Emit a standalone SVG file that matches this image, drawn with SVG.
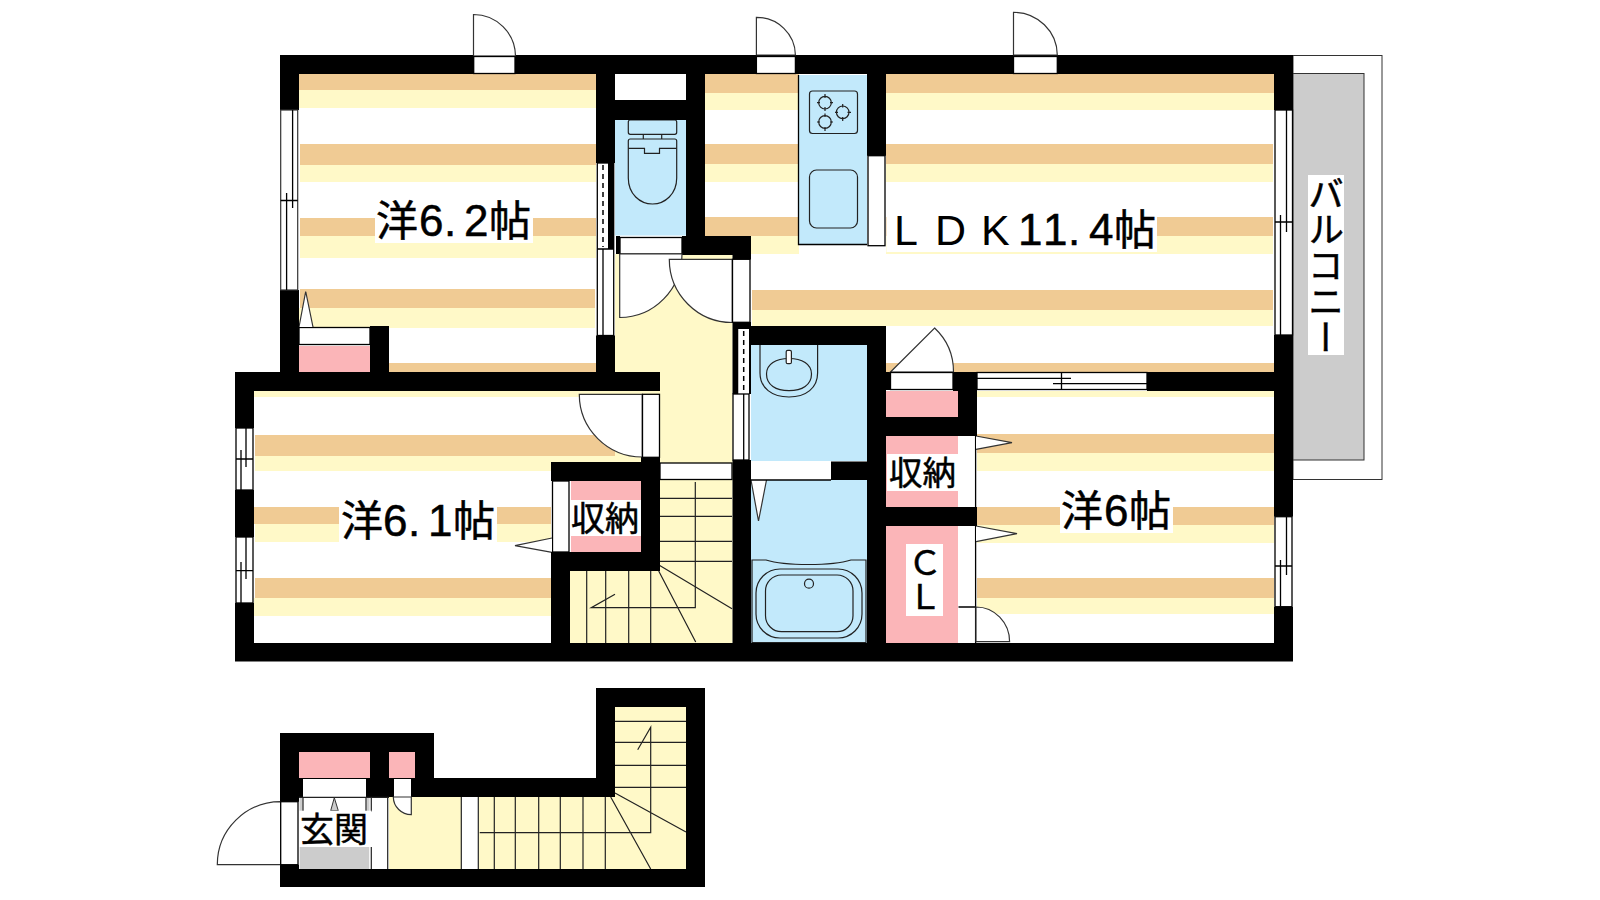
<svg xmlns="http://www.w3.org/2000/svg" width="1600" height="900" viewBox="0 0 1600 900">
<defs><style>
.w{fill:#000}.o{fill:#f0cb94}.c{fill:#fff9c8}.b{fill:#c2e9fb}.p{fill:#fbb5b8}.g{fill:#ccc}.n{fill:#fff}
.l{stroke:#000;stroke-width:1.3;fill:none}.f{stroke:#000;stroke-width:1.3;fill:#fff}
.a{stroke:#333;stroke-width:1.2;fill:none}.d{stroke:#333;stroke-width:1.2;fill:#fff}
.s{stroke:#222;stroke-width:1.2;fill:none}
.t{font-family:"Liberation Sans","Noto Sans CJK JP",sans-serif;fill:#000;stroke:#000;stroke-width:.5}
.j{font-family:"Noto Sans CJK JP",sans-serif;fill:#000;stroke:#000;stroke-width:.5}
.h{font-size:44px}.m{font-size:43px;stroke:none}
</style></defs>
<rect width="1600" height="900" fill="#fff"/>
<g id="balcony">
<rect x="1293" y="55.5" width="89" height="424" fill="#fff" stroke="#333" stroke-width="1"/>
<rect x="1293" y="73.5" width="71" height="386.5" class="g" stroke="#333" stroke-width="1"/>
<rect x="1308" y="175" width="36" height="180" class="n"/>
</g>
<g id="room-west">
<rect class="o" x="299" y="74" width="297" height="16"/><rect class="c" x="299" y="90" width="297" height="18"/>
<rect class="o" x="300" y="144" width="296" height="21"/><rect class="c" x="300" y="165" width="296" height="17"/>
<rect class="o" x="300" y="218" width="296" height="18"/><rect class="c" x="300" y="236" width="296" height="22"/>
<rect class="o" x="300" y="289" width="295" height="19"/><rect class="c" x="299" y="308" width="296" height="20"/>
<rect class="o" x="389" y="363" width="207" height="9"/>
<rect class="p" x="299" y="346" width="71" height="26"/>
<rect class="f" x="299" y="327.5" width="71" height="17"/>
<path class="d" d="M299 327L305.7 291.5L313 327"/>
</g>
<g id="room-ldk">
<g class="o"><rect x="705" y="74" width="94" height="19"/><rect x="705" y="144" width="94" height="20"/><rect x="705" y="217" width="94" height="19"/>
<rect x="886" y="74" width="388" height="19"/><rect x="886" y="144" width="387" height="20"/><rect x="886" y="217" width="387" height="19"/>
<rect x="752" y="290" width="521" height="20"/><rect x="886" y="363" width="388" height="9"/></g>
<g class="c"><rect x="705" y="93" width="94" height="17"/><rect x="705" y="164" width="94" height="18"/><rect x="751" y="236" width="48" height="18"/>
<rect x="886" y="93" width="388" height="17"/><rect x="886" y="164" width="387" height="18"/><rect x="886" y="236" width="387" height="18"/>
<rect x="752" y="310" width="521" height="16"/></g>
<path class="b" d="M798.5 75H867V244.5H798.5Z"/><path class="l" d="M798.5 75V244.5H867"/>
<rect class="f" x="868" y="155.7" width="17" height="90"/>
<rect class="s" x="809.5" y="91" width="48" height="42.5" rx="3"/>
<g class="s"><circle cx="825" cy="102.7" r="6.3"/><circle cx="842.7" cy="112.3" r="6.3"/><circle cx="825" cy="122" r="6.3"/>
<path d="M825 94V98M825 107V111M817 102.7H820M830 102.7H833M842.7 104V107.5M842.7 117V121M835 112.3H838M847.5 112.3H851M825 113.5V117M825 127V131M817 122H820M830 122H833"/></g>
<rect class="s" x="809.5" y="170" width="48" height="58" rx="7"/>
</g>
<g id="room-south-west">
<rect class="c" x="254" y="391" width="387" height="6"/>
<rect class="o" x="255" y="435" width="386" height="21"/><rect class="c" x="255" y="456" width="386" height="15"/>
<rect class="o" x="254" y="507" width="297" height="17"/><rect class="c" x="255" y="524" width="296" height="18"/>
<rect class="o" x="255" y="578" width="296" height="20"/><rect class="c" x="254" y="598" width="297" height="18"/>
<rect class="p" x="571" y="481" width="70" height="71"/>
<rect class="n" x="571" y="500" width="70" height="36"/>
<rect class="f" x="552.5" y="481" width="16.5" height="71"/>
<path class="d" d="M552 538L515 545.7L552 552.3"/>
</g>
<g id="room-south-east">
<rect class="c" x="977" y="391" width="297" height="6"/>
<rect class="o" x="977" y="434" width="297" height="19"/><rect class="c" x="977" y="453" width="297" height="18"/>
<rect class="o" x="977" y="507" width="297" height="18"/><rect class="c" x="977" y="525" width="297" height="18"/>
<rect class="o" x="977" y="578" width="297" height="20"/><rect class="c" x="977" y="598" width="297" height="16"/>
<rect class="p" x="886" y="391" width="72" height="26"/>
<rect class="p" x="886" y="436" width="72" height="71"/>
<rect class="p" x="886" y="526" width="72" height="117"/>
<rect class="n" x="887" y="454" width="71" height="37"/>
<rect class="n" x="906" y="544" width="37" height="72"/>
<rect class="n" x="958.5" y="436" width="17" height="71"/><rect class="n" x="958.5" y="526" width="17" height="117"/>
<path class="l" d="M975.6 436V507M975.6 526V643M958.5 607H976"/>
<path class="d" d="M976 436L1012 442.7L976 449.3"/><path class="d" d="M976 526L1017 533.7L976 541.7"/>
<path class="d" d="M976 607A33.6 34.7 0 0 1 1009.6 641.7H976Z"/>
</g>
<g id="hall-stairs">
<path class="c" d="M615 254H732.5V643H570V571H660V463H615Z"/>
<rect class="c" x="615" y="372" width="45" height="91"/>
<g class="s"><path d="M660 498.3H732M660 516.3H732M660 541.3H732M660 561.3H732M695.3 482V607.7H591.3L615 594.3"/>
<path d="M586.7 571V643M605.7 571V643M628.7 571V643M650.7 571V643M659.3 565.3L732 608.7M658.7 571L695.7 642"/></g>
<rect class="f" x="660" y="463" width="72" height="16.5"/>
</g>
<g id="washroom-bath">
<rect class="b" x="751" y="345" width="116" height="116"/>
<rect class="b" x="751" y="480" width="116" height="163"/>
<path class="s" d="M760 345V373C760 388 772 397 789 397C806 397 817.6 388 817.6 373V345"/>
<path class="s" d="M766.5 374C766.5 364 776 358.5 789 358.5C802 358.5 811.5 364 811.5 374C811.5 385 802 390.7 789 390.7C776 390.7 766.5 385 766.5 374Z"/>
<rect x="786.2" y="350.3" width="5.2" height="13.4" rx="1.5" fill="#fff" stroke="#222" stroke-width="1.2"/>
<path class="s" d="M752 642.7V560H766C785 566 832 566 851 560H866V642.7Z"/>
<rect class="s" x="756" y="569" width="106" height="69" rx="24"/>
<rect class="s" x="765.5" y="575" width="87.5" height="56.7" rx="16"/>
<circle class="s" cx="809" cy="583.7" r="4.5"/>
<path class="d" d="M751 480L758.5 521L766.5 480"/>
<rect class="n" x="751" y="461.5" width="80" height="18.5"/>
<path class="l" d="M751 480H831"/>
</g>
<g id="toilet">
<rect class="b" x="615" y="120" width="71" height="115.5"/>
<rect class="s" x="628.3" y="120" width="48.4" height="14.3" rx="2"/>
<path class="s" d="M643.3 134.3V139M661.7 134.3V139"/>
<path class="s" d="M628.3 141Q628.3 139 630.3 139H674.7Q676.7 139 676.7 141V178C676.7 194 665 204 652.5 204C640 204 628.3 194 628.3 178Z"/>
<path class="s" d="M628.3 148.3H644.5V153.3H659.5V148.3H676.7"/>
</g>
<g id="walls">
<path class="w" d="M280 55H1293V110H1274V74H886V155.7H867V74H705V236H751V259.5H732.5V255H682V236H686V74H615V163H596V74H299V110H280Z"/>
<rect class="w" x="615" y="100" width="71" height="20"/>
<rect class="w" x="280" y="290" width="19" height="82"/>
<rect class="w" x="370" y="326" width="19" height="46"/>
<rect class="w" x="596" y="335.5" width="19" height="36.5"/>
<rect class="w" x="616" y="236" width="4" height="18"/>
<rect class="w" x="1274" y="335" width="19" height="181.5"/>
<rect class="w" x="1274" y="607" width="19" height="54"/>
<rect class="w" x="235" y="372" width="425" height="19"/>
<rect class="w" x="235" y="391" width="19" height="37"/>
<rect class="w" x="235" y="490" width="19" height="47"/>
<rect class="w" x="235" y="603" width="19" height="58"/>
<rect class="w" x="235" y="643" width="1058" height="18.5"/>
<rect class="w" x="641" y="457" width="19" height="114"/>
<rect class="w" x="551" y="462" width="90" height="19"/>
<rect class="w" x="551" y="552" width="90" height="19"/>
<rect class="w" x="551" y="571" width="19" height="72"/>
<rect class="w" x="732.5" y="322" width="18.5" height="7"/>
<rect class="w" x="751" y="326" width="135" height="19"/>
<rect class="w" x="867" y="326" width="19" height="317"/>
<rect class="w" x="886" y="372" width="4.5" height="18"/>
<rect class="w" x="953" y="372" width="24" height="19"/>
<rect class="w" x="958" y="391" width="19" height="45"/>
<rect class="w" x="886" y="417" width="91" height="19"/>
<rect class="w" x="886" y="507" width="91" height="19"/>
<rect class="w" x="1147" y="372" width="146" height="19"/>
<rect class="w" x="732.5" y="460" width="18.5" height="183"/>
<rect class="w" x="831" y="461.5" width="36" height="18.5"/>
<rect class="w" x="732.5" y="329" width="6" height="65"/>
<rect class="w" x="749" y="329" width="2" height="65"/>
</g>
<g id="windows-doors">
<rect class="d" x="280.7" y="110" width="17" height="180"/>
<path class="l" d="M286.6 193V290M292.6 110V208M280.7 200.5H297.7"/>
<rect class="f" x="1275" y="110" width="17.5" height="225"/>
<path class="l" d="M1280.5 215V335M1286.5 110V232M1275 222H1292.5"/>
<rect class="f" x="236" y="428" width="17" height="62"/>
<path class="l" d="M241 450V490M246 428V467M236 459H253"/>
<rect class="f" x="236" y="537" width="17" height="66"/>
<path class="l" d="M241 562V603M246 537V579M236 570.7H253"/>
<rect class="f" x="1275" y="516.7" width="17" height="90"/>
<path class="l" d="M1280.5 560V606.7M1286.5 516.7V575M1275 566H1292"/>
<rect class="f" x="597.3" y="163" width="16.4" height="172.5"/>
<rect class="w" x="608" y="163" width="6" height="86"/>
<path d="M603 165V247" stroke="#000" stroke-width="1.5" stroke-dasharray="5 4"/>
<path class="l" d="M597.3 249H613.7M603 249V335"/>
<rect class="n" x="738.5" y="329" width="10.5" height="65"/>
<path d="M743.7 331V392" stroke="#000" stroke-width="1.5" stroke-dasharray="5 4"/>
<rect class="f" x="733" y="394" width="16" height="66"/>
<path class="l" d="M743.7 394V460"/>
<rect class="f" x="977" y="372.5" width="170" height="17"/>
<path class="l" d="M977 378.3H1071M1053 383.7H1147M1061.5 372.5V389.5"/>
<path class="d" d="M473.5 14.5A42 42 0 0 1 515.5 56H473.5Z"/><rect class="f" x="473.7" y="56.5" width="41.3" height="17"/>
<path class="d" d="M756.4 17.3A39 38 0 0 1 795.4 55H756.4Z"/><rect class="f" x="756.4" y="56.5" width="39" height="17"/>
<path class="d" d="M1013.5 12.3A43.8 43 0 0 1 1057.3 55H1013.5Z"/><rect class="f" x="1013.5" y="56.5" width="43.8" height="17"/>
<rect class="f" x="620" y="237.5" width="62" height="16.5"/>
<path class="d" d="M619.7 254H682A62.3 63.5 0 0 1 619.7 317.5Z"/>
<path class="d" d="M669.3 259.3H732.3V322.5A63 63.2 0 0 1 669.3 259.3Z"/>
<rect class="f" x="732.5" y="259.3" width="17.5" height="63"/>
<path class="d" d="M579.3 394.3H642.3V457A63 62.7 0 0 1 579.3 394.3Z"/>
<rect class="f" x="642.5" y="394.3" width="17" height="63"/>
<path class="d" d="M890.5 372L934.6 328A60 60 0 0 1 953.5 372Z"/>
<rect class="f" x="890.5" y="372.5" width="62.5" height="17"/>
</g>
<g id="entrance-floor">
<path class="w" d="M280 733H434V778H596V688H705V887H280V864.7H299V801.7H280Z"/>
<rect class="n" x="299" y="797" width="90" height="72"/>
<rect class="g" x="299.7" y="847" width="69.5" height="22"/>
<rect class="g" x="299.5" y="798" width="3" height="13"/><rect class="g" x="366.5" y="798" width="3" height="13"/>
<rect class="c" x="389" y="797" width="72" height="72"/>
<rect class="n" x="461" y="797" width="18" height="72"/>
<rect class="c" x="479" y="797" width="136" height="72"/>
<rect class="c" x="615" y="707" width="71" height="162"/>
<rect class="p" x="299" y="752" width="71" height="26"/><rect class="p" x="389" y="752" width="26" height="26"/>
<rect class="n" x="303" y="779" width="63" height="18"/><rect class="n" x="394" y="779" width="17" height="18"/>
<g class="s"><path d="M494.3 797V869M515.3 797V869M538.7 797V869M560.3 797V869M583 797V869M605.3 797V869M479.7 832.7H650.7V727.3L637.7 749.7M615 721.3H686M615 742.3H686M615 765.3H686M615 787.3H686M615 793L686 832M610.7 797L650.7 869"/>
<path d="M461.3 797V869M478.3 797V869M371.3 797V812M371.3 847V869M387.7 797V869M299 797.3H389M303 797V811M366 797V811"/></g>
<path d="M330.7 810.7L334.3 797.7L338.3 810.7Z" fill="#ccc" stroke="#333" stroke-width="1"/>
<path class="d" d="M393.3 797A18 18 0 0 0 411.3 814.7V797Z"/>
<path class="d" d="M280.7 801.7A63.4 63 0 0 0 217.3 864.7H280.7Z"/>
<rect class="f" x="280.7" y="801.7" width="17.3" height="63"/>
<rect class="n" x="299" y="810.7" width="72.7" height="36"/>
</g>
<g id="labels">
<rect class="n" x="375" y="200" width="158" height="43"/>
<text class="t" font-size="42" y="236"><tspan x="376">洋</tspan><tspan class="h" x="419">6</tspan><tspan class="h" x="444">.</tspan><tspan class="h" x="464">2</tspan><tspan x="489">帖</tspan></text>
<rect class="n" x="886.5" y="210" width="270.5" height="42"/>
<text class="t" font-size="42" y="245"><tspan class="m" x="894">L</tspan><tspan class="m" x="935">D</tspan><tspan class="m" x="981">K</tspan><tspan class="h" x="1018">1</tspan><tspan class="h" x="1043">1</tspan><tspan class="h" x="1068">.</tspan><tspan class="h" x="1089">4</tspan><tspan x="1114">帖</tspan></text>
<rect class="n" x="339" y="500" width="158" height="42"/>
<text class="t" font-size="42" y="536"><tspan x="341">洋</tspan><tspan class="h" x="383">6</tspan><tspan class="h" x="408">.</tspan><tspan class="h" x="428">1</tspan><tspan x="453">帖</tspan></text>
<rect class="n" x="1060" y="489" width="113" height="44"/>
<text class="t" font-size="42" y="526"><tspan x="1061">洋</tspan><tspan class="h" x="1104">6</tspan><tspan x="1129">帖</tspan></text>
<text class="j" font-size="34" x="571" y="531">収納</text>
<text class="j" font-size="33.5" x="889" y="485">収納</text>
<text class="j" font-size="34" x="925" y="546" style="writing-mode:vertical-rl">ＣＬ</text>
<text class="j" font-size="34" x="300" y="842">玄関</text>
<text class="j" font-size="36" x="1326" y="175" style="writing-mode:vertical-rl">バルコニー</text>
</g>
</svg>
